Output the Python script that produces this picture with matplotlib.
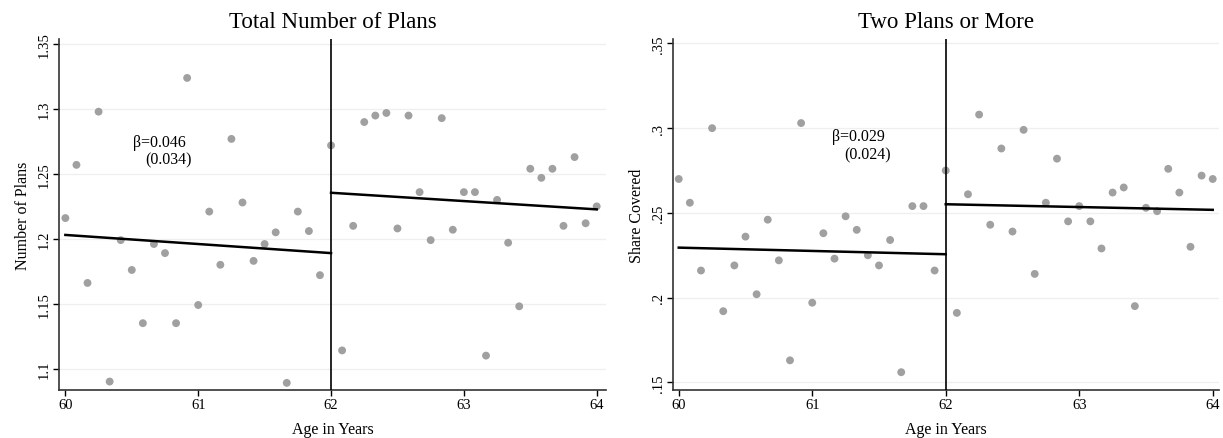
import numpy as np
import matplotlib
matplotlib.use("Agg")
import matplotlib.pyplot as plt

plt.rcParams['font.family'] = ['Liberation Serif', 'DejaVu Serif']

# Monthly age bins from 60 to 64
age = np.arange(49) / 12.0 + 60.0

# Panel A: total number of plans
plans = [1.216, 1.257, 1.166, 1.298, 1.090, 1.199, 1.176, 1.135, 1.196, 1.189,
         1.135, 1.324, 1.149, 1.221, 1.180, 1.277, 1.228, 1.183, 1.196, 1.205,
         1.089, 1.221, 1.206, 1.172, 1.272,
         1.114, 1.210, 1.290, 1.295, 1.297, 1.208, 1.295, 1.236, 1.199, 1.293,
         1.207, 1.236, 1.236, 1.110, 1.230, 1.197, 1.148, 1.254, 1.247, 1.254,
         1.210, 1.263, 1.212, 1.225]
plans_fit_left = [1.203, 1.189]
plans_fit_right = [1.2355, 1.2227]

# Panel B: share with two plans or more
share = [0.270, 0.256, 0.216, 0.300, 0.192, 0.219, 0.236, 0.202, 0.246, 0.222,
         0.163, 0.303, 0.197, 0.238, 0.223, 0.248, 0.240, 0.225, 0.219, 0.234,
         0.156, 0.254, 0.254, 0.216, 0.275,
         0.191, 0.261, 0.308, 0.243, 0.288, 0.239, 0.299, 0.214, 0.256, 0.282,
         0.245, 0.254, 0.245, 0.229, 0.262, 0.265, 0.195, 0.253, 0.251, 0.276,
         0.262, 0.230, 0.272, 0.270]
share_fit_left = [0.2295, 0.2256]
share_fit_right = [0.2551, 0.2518]

x_ticks = [60, 61, 62, 63, 64]
plans_ticks = [1.1, 1.15, 1.2, 1.25, 1.3, 1.35]
plans_tick_labels = ["1.1", "1.15", "1.2", "1.25", "1.3", "1.35"]
share_ticks = [0.15, 0.2, 0.25, 0.3, 0.35]
share_tick_labels = [".15", ".2", ".25", ".3", ".35"]

fig = plt.figure(figsize=(12.23, 4.39), dpi=100)
W, H = 1223, 439


def make_axes(left, right, top, bottom):
    return fig.add_axes([left / W, 1 - bottom / H, (right - left) / W, (bottom - top) / H])


ax1 = make_axes(59, 606, 40, 391)
ax2 = make_axes(673, 1219, 40, 391)

panels = [
    (ax1, plans, plans_fit_left, plans_fit_right, plans_ticks, plans_tick_labels,
     (1.0835, 1.354), (59.952, 64.07), "Total Number of Plans", "Number of Plans",
     ("\u03b2=0.046", 60.51, 1.2744), ("(0.034)", 60.60, 1.2613)),
    (ax2, share, share_fit_left, share_fit_right, share_ticks, share_tick_labels,
     (0.1455, 0.3526), (59.957, 64.047), "Two Plans or More", "Share Covered",
     ("\u03b2=0.029", 61.15, 0.2955), ("(0.024)", 61.24, 0.2846)),
]

for (ax, vals, fl, fr, yt, ytl, ylim, xlim, title, ylabel, t1, t2) in panels:
    ax.set_xlim(*xlim)
    ax.set_ylim(*ylim)
    for y in yt:
        ax.axhline(y, color="#efefef", lw=0.9, zorder=0)
    ax.scatter(age, vals, s=32, color="#a0a0a0", edgecolors="none", zorder=2)
    ax.plot([60, 62], fl, color="black", lw=1.8, zorder=3)
    ax.plot([62, 64], fr, color="black", lw=1.8, zorder=3)
    ax.axvline(62, color="black", lw=1.2, zorder=3)

    ax.set_xticks(x_ticks)
    ax.set_xticklabels([str(t) for t in x_ticks], fontsize=10.5)
    ax.set_yticks(yt)
    ax.set_yticklabels(ytl, fontsize=10.5, rotation=90, va="center")
    ax.tick_params(direction="out", length=4, width=1, colors="black", pad=2)

    for s in ("top", "right"):
        ax.spines[s].set_visible(False)
    for s in ("left", "bottom"):
        ax.spines[s].set_linewidth(1.2)
        ax.spines[s].set_color("#333333")

    ax.set_title(title, fontsize=16.5, pad=9)
    ax.set_ylabel(ylabel, fontsize=11.5, labelpad=5)
    ax.set_xlabel("Age in Years", fontsize=11.5, labelpad=7)

    ax.text(t1[1], t1[2], t1[0], fontsize=11.5, ha="left", va="center", zorder=4)
    ax.text(t2[1], t2[2], t2[0], fontsize=11.5, ha="left", va="center", zorder=4)

fig.savefig("out.png", dpi=100, facecolor="white")
